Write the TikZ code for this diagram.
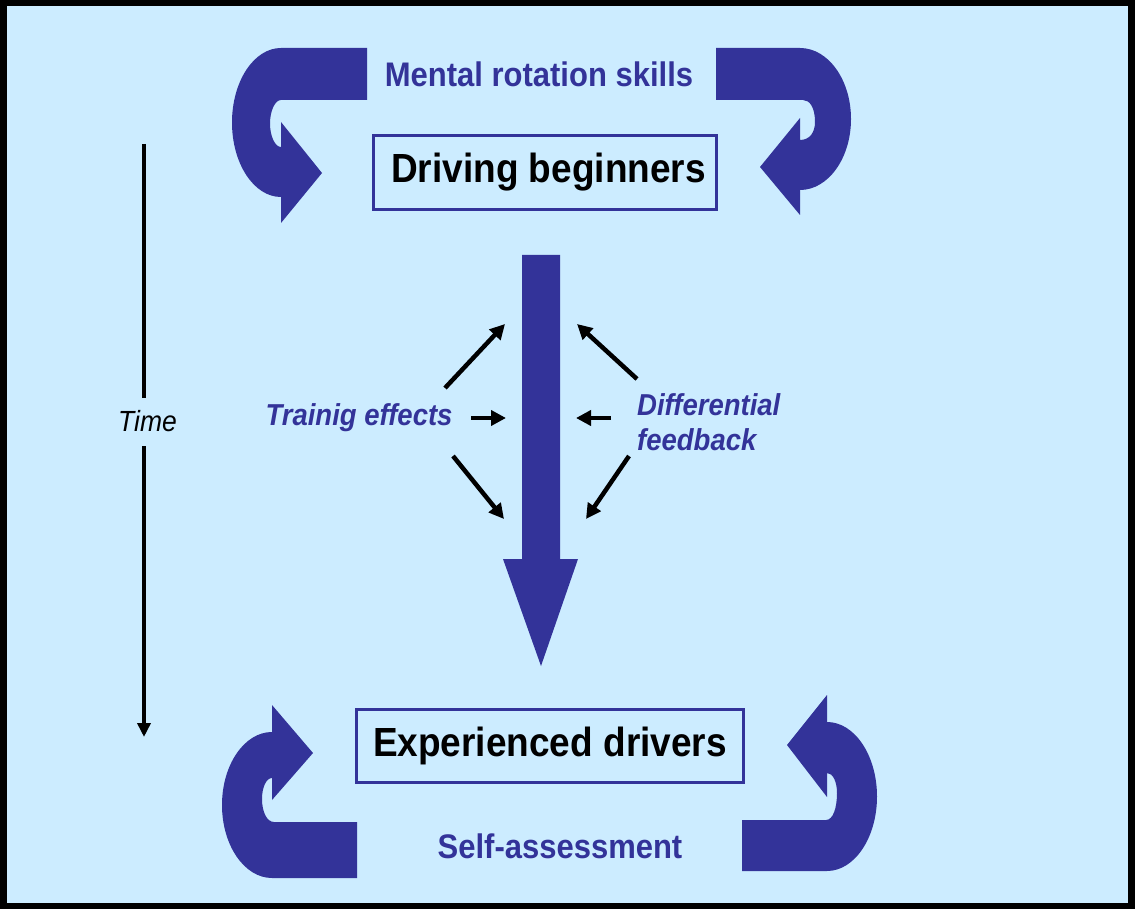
\documentclass[tikz,border=0pt]{standalone}
\usepackage{fontspec}
\setmainfont{Liberation Sans}
\usetikzlibrary{arrows.meta}
\definecolor{bg}{HTML}{CCECFF}
\definecolor{db}{HTML}{333399}
\newcommand{\vst}[1]{\scalebox{1}[1.1]{#1}}
\begin{document}
\begin{tikzpicture}[x=1pt,y=-1pt,
  band/.style={fill=db,draw=none},
  boxnode/.style={draw=db,line width=3pt,fill=bg,inner sep=0pt,font=\fontsize{37}{40}\selectfont\bfseries},
  bluetxt/.style={text=db,inner sep=0pt,font=\fontsize{31}{34}\selectfont\bfseries},
  italtxt/.style={text=db,inner sep=0pt,font=\fontsize{27.5}{30}\selectfont\bfseries\itshape},
  timetxt/.style={text=black,inner sep=0pt,font=\fontsize{26.5}{30}\selectfont\itshape},
  smallarrow/.style={line width=4.5pt,-{Triangle[length=15pt,width=15pt]}},
  timearrow/.style={line width=4.5pt}]
% frame and background
\fill[black] (0,0) rectangle (1135,909);
\fill[bg] (7,6) rectangle (1128,903);
\useasboundingbox (0,0) rectangle (1135,909);
% boxes
\node[boxnode,minimum width=343pt,minimum height=74pt] (beg) at (545,172.5) {\hspace*{7pt}\vst{Driving beginners}};
\node[boxnode,minimum width=387pt,minimum height=73pt] (exp) at (550,746) {\vst{Experienced drivers}};
% labels
\node[bluetxt,anchor=base] (mrs) at (539,87) {\vst{Mental rotation skills}};
\node[bluetxt,anchor=base] (sa) at (560,858) {\vst{Self-assessment}};
\node[italtxt,anchor=base] (te) at (359,425) {\vst{Trainig effects}};
\node[italtxt,anchor=base west] (df1) at (637,415) {\vst{Differential}};
\node[italtxt,anchor=base west] (df2) at (637,450) {\vst{feedback}};
\node[timetxt,anchor=base] (time) at (147.5,431) {\vst{Time}};
% big arrow
\fill[db] (522,255) -- (560,255) -- (560,559) -- (578,559) -- (541,666) -- (503,559) -- (522,559) -- cycle;
% curved arrows
\fill[db] (367,48) -- (281,48) .. controls (253.9,48) and (232,81.4) .. (232,122.5)
  .. controls (232,163.6) and (253.9,197) .. (281,197) -- (281,223) -- (322,173) -- (281,122) -- (281,147)
  .. controls (275,147) and (270,136) .. (270,123.5) .. controls (270,111) and (275,100) .. (281,100)
  -- (367,100) -- cycle;
\fill[db] (716,48) -- (800,48) .. controls (828.2,48) and (851,79.8) .. (851,119)
  .. controls (851,158.2) and (828.2,190) .. (800,190) -- (800,215) -- (760,167) -- (800,118) -- (800,140)
  .. controls (810,140) and (815,132) .. (815,122) .. controls (815,108) and (810,100) .. (803,100)
  -- (716,100) -- cycle;
\fill[db] (357,878) -- (272,878) .. controls (244.4,878) and (222,845.3) .. (222,805)
  .. controls (222,764.7) and (244.4,732) .. (272,732) -- (272,705) -- (313,753) -- (272,800) -- (272,778)
  .. controls (266,778) and (262,788) .. (262,799) .. controls (262,812) and (267,822) .. (274,822)
  -- (357,822) -- cycle;
\fill[db] (742,871) -- (827,871) .. controls (854.6,871) and (877,837.6) .. (877,796.5)
  .. controls (877,755.4) and (854.6,722) .. (827,722) -- (827,695) -- (787,745) -- (827,797) -- (827,773)
  .. controls (833,773) and (837,782) .. (837,793) .. controls (837,808) and (833,820) .. (826,820)
  -- (742,820) -- cycle;
% small arrow endpoints
\coordinate (ul0) at (445,388); \coordinate (ul1) at (505,324);
\coordinate (ml0) at (471,418); \coordinate (ml1) at (506,418);
\coordinate (ll0) at (453,456); \coordinate (ll1) at (504,519);
\coordinate (ur0) at (637,379); \coordinate (ur1) at (577,324);
\coordinate (mr0) at (611,418); \coordinate (mr1) at (576,418);
\coordinate (lr0) at (629,456); \coordinate (lr1) at (586,519);
\draw[smallarrow] (ul0) -- (ul1);
\draw[smallarrow] (ml0) -- (ml1);
\draw[smallarrow] (ll0) -- (ll1);
\draw[smallarrow] (ur0) -- (ur1);
\draw[smallarrow] (mr0) -- (mr1);
\draw[smallarrow] (lr0) -- (lr1);
% time arrow
\coordinate (ttop) at (144,144);
\coordinate (tbot) at (144,737);
\coordinate (tg1) at (144,398);
\coordinate (tg2) at (144,446);
\draw[timearrow] (ttop) -- (tg1);
\draw[timearrow,-{Triangle[length=14pt,width=13pt]}] (tg2) -- (tbot);
\end{tikzpicture}
\end{document}
